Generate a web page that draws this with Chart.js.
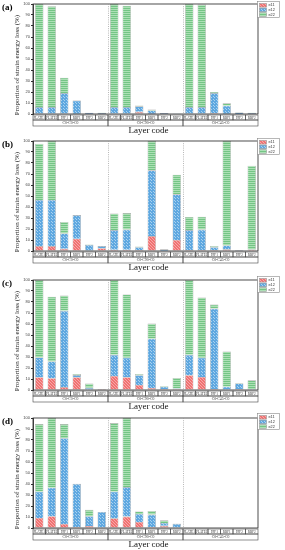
<!DOCTYPE html>
<html><head><meta charset="utf-8">
<script src="https://cdn.jsdelivr.net/npm/chart.js@4"></script>
<style>
body{margin:0;width:285px;height:550px;background:#fff;overflow:hidden}
.p{position:relative;width:285px}
</style></head><body>
<div class="p" style="height:137px"><canvas id="ca"></canvas></div>
<div class="p" style="height:138px"><canvas id="cb"></canvas></div>
<div class="p" style="height:137px"><canvas id="cc"></canvas></div>
<div class="p" style="height:138px"><canvas id="cd"></canvas></div>
<script>
// ---- data ----
const catNames = ["PLATE1","PLATE2","FPF1","RBF1","FPF2","RBF2"];
const groupNames = ["C0-C0-C0","C0-C90-C0","C0-C45-C0"];
const seriesNames = ["e11","e12","e22"];
const yTicks = [0,10,20,30,40,50,60,70,80,90,100];

const e11_a = [0.5,0.5,0.5,0.3,0.1,0.1, 0.5,0.5,2.0,0.2,0.1,0.0, 0.5,0.5,1.0,0.3,0.1,0.1];
const e12_a = [5.8,5.8,18.5,11.9,1.0,0.9, 5.8,5.8,5.0,3.0,0.8,0.2, 5.8,5.8,18.0,7.2,1.3,0.9];
const e22_a = [93.7,91.7,14.0,0.3,0.1,0.1, 93.7,92.2,0.8,0.8,0.1,0.0, 93.7,93.2,1.0,2.2,0.2,0.1];

const e11_b = [4.5,4.5,2.0,11.2,0.5,2.5, 1.2,1.2,1.0,13.6,0.3,10.0, 1.0,1.0,0.8,1.5,0.2,1.3];
const e12_b = [41.9,41.9,14.0,21.5,5.0,2.0, 17.8,18.3,2.5,59.7,1.2,41.5, 18.0,18.5,2.7,3.5,0.4,0.0];
const e22_b = [51.1,53.6,10.4,0.0,0.5,0.0, 15.2,15.0,0.7,26.7,0.3,17.9, 12.0,11.7,1.0,95.0,0.2,76.2];

const e11_c = [11.6,10.7,2.7,11.6,0.5,0.1, 12.8,11.6,4.6,1.8,1.0,0.8, 13.4,11.9,1.0,0.5,1.0,0.5];
const e12_c = [18.0,15.3,69.3,2.0,1.5,0.1, 19.2,17.7,8.8,44.8,2.0,0.5, 18.6,17.4,73.0,2.5,5.0,0.5];
const e22_c = [70.4,58.8,14.0,1.0,3.8,0.1, 68.0,57.6,1.2,13.8,0.6,9.7, 68.0,54.8,3.7,32.0,0.4,7.8];

const e11_d = [9.1,10.7,3.7,1.0,1.8,0.0, 8.8,10.4,5.5,1.0,2.0,0.0, 0,0,0,0,0,0];
const e12_d = [23.9,25.9,78.0,39.2,8.9,14.6, 24.2,26.8,7.3,11.2,2.6,3.8, 0,0,0,0,0,0];
const e22_d = [61.5,63.4,12.8,0.0,5.8,0.0, 62.4,62.8,2.2,3.3,2.4,0.2, 0,0,0,0,0,0];

// ---- patterns ----
function makePattern(kind){
  const c=document.createElement('canvas');
  const ctx=c.getContext('2d');
  if(kind==='e11'){
    c.width=3;c.height=3;
    ctx.fillStyle='#f07272';ctx.fillRect(0,0,3,3);
    ctx.fillStyle='#f7a8a8';
    ctx.fillRect(0,0,1,1);ctx.fillRect(1,1,1,1);ctx.fillRect(2,2,1,1);
  } else if(kind==='e12'){
    c.width=3;c.height=3;
    ctx.fillStyle='#5fa8e0';ctx.fillRect(0,0,3,3);
    ctx.fillStyle='#a9d2f0';
    ctx.fillRect(1,1,1,1);ctx.fillRect(0,0,1,1);
  } else {
    c.width=2;c.height=2;
    ctx.fillStyle='#74c585';ctx.fillRect(0,0,2,1);
    ctx.fillStyle='#ace0b5';ctx.fillRect(0,1,2,1);
  }
  return ctx.createPattern(c,'repeat');
}
const fills = {e11:makePattern('e11'), e12:makePattern('e12'), e22:makePattern('e22')};
const swatchSolid = {e11:'#f07a7a', e12:'#6caee2', e22:'#80cc90'};

const labels = [];
groupNames.forEach(g=>catNames.forEach(c=>labels.push(c)));

const decor = {
  id:'decor',
  afterDraw(chart, args, opts){
    const ctx=chart.ctx, a=chart.chartArea, xs=chart.scales.x;
    ctx.save();
    // frame
    ctx.strokeStyle='#222';ctx.lineWidth=0.8;
    ctx.strokeRect(a.left,a.top,a.right-a.left,a.bottom-a.top);
    // group separators
    ctx.strokeStyle='#999';ctx.lineWidth=0.7;ctx.setLineDash([1,1.2]);
    for(let g=1;g<groupNames.length;g++){
      const i=g*catNames.length;
      const x=Math.round((xs.getPixelForValue(i-1)+xs.getPixelForValue(i))/2)+0.5;
      ctx.beginPath();ctx.moveTo(x,a.top);ctx.lineTo(x,a.bottom);ctx.stroke();
    }
    ctx.setLineDash([]);
    // label table
    const r1=a.bottom+1, r2=a.bottom+6, r3=a.bottom+12;
    ctx.strokeStyle='#444';ctx.lineWidth=0.6;
    const half=(xs.getPixelForValue(1)-xs.getPixelForValue(0))/2;
    ctx.fillStyle='#333';ctx.textAlign='center';ctx.textBaseline='middle';
    ctx.font='3.3px "Liberation Serif"';
    labels.forEach((l,i)=>{
      const cx=xs.getPixelForValue(i);
      ctx.strokeRect(cx-half,r1,half*2,r2-r1);
      ctx.fillText(l,cx,(r1+r2)/2+0.3);
    });
    ctx.font='3.8px "Liberation Serif"';
    groupNames.forEach((g,gi)=>{
      const x0=xs.getPixelForValue(gi*catNames.length)-half;
      const x1=xs.getPixelForValue(gi*catNames.length+catNames.length-1)+half;
      ctx.strokeRect(x0,r2,x1-x0,r3-r2);
      ctx.fillText(g,(x0+x1)/2,(r2+r3)/2);
    });
    // x title
    ctx.fillStyle='#111';ctx.font='9px "Liberation Serif"';
    ctx.fillText('Layer code',(a.left+a.right)/2+3,r3+5);
    // y title
    ctx.save();
    ctx.translate(17,(a.top+a.bottom)/2+6);ctx.rotate(-Math.PI/2);
    ctx.font='7px "Liberation Serif"';ctx.fillStyle='#222';
    ctx.fillText('Proportion of strain energy loss (%)',0,0);
    ctx.restore();
    // panel letter
    ctx.textAlign='left';ctx.textBaseline='alphabetic';
    ctx.font='bold 9px "Liberation Serif"';ctx.fillStyle='#000';
    ctx.fillText(opts.letter,2,a.top+6);
    // legend
    const lx=257.5, ly=1.5;
    ctx.fillStyle='#fff';ctx.fillRect(lx,ly,22,16);
    ctx.strokeStyle='#888';ctx.lineWidth=0.6;ctx.strokeRect(lx,ly,22,16);
    ctx.font='3.8px "Liberation Sans"';ctx.textBaseline='middle';
    seriesNames.forEach((s,i)=>{
      const y=ly+2+i*4.6;
      ctx.fillStyle=fills[s];ctx.fillRect(lx+2,y,7,3.6);
      ctx.strokeStyle='#999';ctx.strokeRect(lx+2,y,7,3.6);
      ctx.fillStyle='#333';ctx.fillText(s,lx+11,y+1.9);
    });
    ctx.restore();
  }
};

function build(id, letter, d11, d12, d22, topPad, xh){
  const sets=[d11,d12,d22].map((d,i)=>({
    label:seriesNames[i], data:d,
    backgroundColor:fills[seriesNames[i]],
    borderColor:'#a8a8a8', borderWidth:0.6,
    barPercentage:0.67, categoryPercentage:1
  }));
  new Chart(document.getElementById(id),{
    type:'bar',
    data:{labels:labels, datasets:sets},
    options:{
      responsive:true, maintainAspectRatio:false, animation:false, devicePixelRatio:1,
      layout:{padding:{top:topPad,right:27,left:0,bottom:0}},
      plugins:{legend:{display:false},tooltip:{enabled:false},decor:{letter:letter}},
      scales:{
        x:{stacked:true, ticks:{display:false}, grid:{display:false}, border:{display:false},
           afterFit(s){s.height=xh;}},
        y:{stacked:true, min:0, max:100,
           afterBuildTicks(s){s.ticks=yTicks.map(v=>({value:v}));},
           ticks:{font:{size:4,family:'Liberation Sans'},color:'#444',padding:1},
           grid:{drawOnChartArea:false,drawTicks:true,tickLength:2,color:'#333'},
           border:{display:true,color:'#222',width:0.8},
           afterFit(s){s.width=33;}}
      }
    },
    plugins:[decor]
  });
}
build('ca','(a)',e11_a,e12_a,e22_a,4,23);
build('cb','(b)',e11_b,e12_b,e22_b,4,24);
build('cc','(c)',e11_c,e12_c,e22_c,5,22);
build('cd','(d)',e11_d,e12_d,e22_d,6,22);
</script></body></html>
